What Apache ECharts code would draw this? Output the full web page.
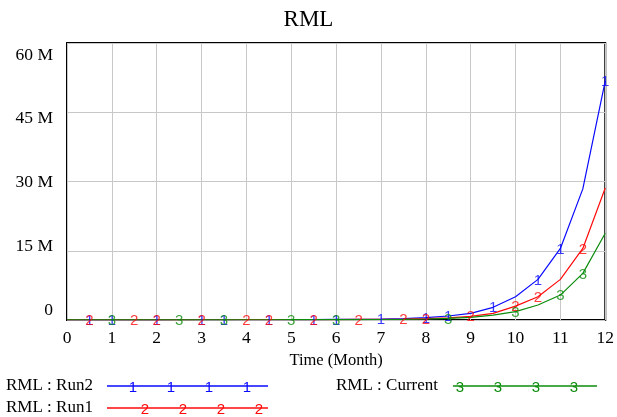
<!DOCTYPE html>
<html>
<head>
<meta charset="utf-8">
<script src="https://cdn.jsdelivr.net/npm/echarts@6/dist/echarts.min.js"></script>
<style>
  html, body { margin: 0; padding: 0; background: #fff; }
  #chart { width: 617px; height: 417px; }
</style>
</head>
<body>
<div id="chart"></div>
<script>
// time in months, 0..12 every half month
const times = [0, 0.5, 1, 1.5, 2, 2.5, 3, 3.5, 4, 4.5, 5, 5.5, 6, 6.5, 7, 7.5, 8, 8.5, 9, 9.5, 10, 10.5, 11, 11.5, 12];
// RML values in millions
const run2 = [0.02, 0.03, 0.03, 0.04, 0.04, 0.05, 0.05, 0.06, 0.07, 0.08, 0.09, 0.1, 0.12, 0.15, 0.2, 0.3, 0.5, 0.87, 1.45, 2.75, 5.05, 8.8, 15.5, 28.4, 51.8];
const run1 = [0.02, 0.02, 0.03, 0.03, 0.04, 0.04, 0.05, 0.05, 0.06, 0.07, 0.08, 0.09, 0.1, 0.12, 0.15, 0.2, 0.3, 0.45, 0.8, 1.45, 3.0, 5.05, 8.8, 15.5, 28.6];
const current = [0.02, 0.02, 0.02, 0.03, 0.03, 0.03, 0.04, 0.04, 0.05, 0.05, 0.06, 0.07, 0.08, 0.09, 0.11, 0.15, 0.22, 0.35, 0.58, 1.05, 1.8, 3.25, 5.4, 10.1, 18.8];
// times where the run number is printed on the line
const run2Marks = [0.5, 1, 2, 3, 3.5, 4.5, 5.5, 6, 7, 8, 8.5, 9.5, 10.5, 11, 12];
const run1Marks = [0.5, 1.5, 2, 3, 4, 4.5, 5.5, 6.5, 7.5, 8, 9, 10, 10.5, 11.5];
const currentMarks = [1, 2.5, 3.5, 5, 6, 8.5, 10, 11, 11.5];

const yTicks = [0, 15, 30, 45, 60];
const yLabels = ['0', '15 M', '30 M', '45 M', '60 M'];
const yShift = [-9.5, -4.5, 1, 6, 12];

const serif = '"Liberation Serif", "Times New Roman", serif';
const sans = '"Liberation Sans", Arial, sans-serif';

const runs = [
  { name: 'RML : Run2', data: run2, marks: run2Marks, color: '#0a0aff', tag: '1' },
  { name: 'RML : Run1', data: run1, marks: run1Marks, color: '#ff0a0a', tag: '2' },
  { name: 'RML : Current', data: current, marks: currentMarks, color: '#0c8c0c', tag: '3' }
];

const rich = {};
yShift.forEach((d, i) => {
  rich['l' + i] = {
    fontFamily: serif, fontSize: 17.5, color: '#000',
    padding: d > 0 ? [2 * d, 0, 0, 0] : [0, 0, -2 * d, 0]
  };
});

const series = [];
runs.forEach(r => {
  series.push({
    name: r.name,
    type: 'line',
    data: times.map((t, i) => [t, r.data[i]]),
    symbol: 'none',
    lineStyle: { color: r.color, width: 1.2 },
    z: 3
  });
});
runs.forEach(r => {
  series.push({
    type: 'scatter',
    data: r.marks.map(t => [t, r.data[times.indexOf(t)]]),
    symbolSize: 1,
    itemStyle: { color: 'transparent' },
    label: {
      show: true, position: 'inside', formatter: r.tag, offset: [0, 1],
      color: r.color, fontFamily: sans, fontSize: 15
    },
    z: 4
  });
});

// legend drawn by hand, Vensim style
const legendItems = [
  { x: 6, y: 387, x1: 107, x2: 268, marks: [133, 171, 209, 247], run: runs[0] },
  { x: 6, y: 409, x1: 107, x2: 268, marks: [145, 183, 221, 259], run: runs[1] },
  { x: 336, y: 387, x1: 453, x2: 597, marks: [460, 498, 536, 574], run: runs[2] }
];
const graphic = [];
legendItems.forEach(it => {
  graphic.push({
    type: 'text', left: it.x, top: it.y - 10,
    style: { text: it.run.name, font: '17px ' + serif, fill: '#000' }
  });
  graphic.push({
    type: 'line',
    shape: { x1: it.x1, y1: it.y - 1, x2: it.x2, y2: it.y - 1 },
    style: { stroke: it.run.color, lineWidth: 1.5 }
  });
  it.marks.forEach(mx => {
    graphic.push({
      type: 'text', x: mx, y: it.y + 1,
      style: {
        text: it.run.tag, font: '15px ' + sans, fill: it.run.color,
        align: 'center', verticalAlign: 'middle'
      }
    });
  });
});

const chart = echarts.init(document.getElementById('chart'));
chart.setOption({
  animation: false,
  backgroundColor: '#fff',
  title: {
    text: 'RML', left: 'center', top: 3,
    textStyle: { fontFamily: serif, fontSize: 23, fontWeight: 'normal', color: '#000' }
  },
  grid: {
    left: 67, right: 9, top: 43, bottom: 97,
    show: true, borderColor: '#000', borderWidth: 2, backgroundColor: 'transparent'
  },
  xAxis: {
    type: 'value', min: 0, max: 12, interval: 1,
    name: 'Time (Month)', nameLocation: 'middle', nameGap: 30,
    nameTextStyle: { fontFamily: serif, fontSize: 16.5, color: '#000' },
    axisLine: { show: false }, axisTick: { show: false },
    axisLabel: { fontFamily: serif, fontSize: 17.5, color: '#000', margin: 9 },
    splitLine: { lineStyle: { color: '#c8c8c8', width: 1 } }
  },
  yAxis: {
    type: 'value', min: 0, max: 60, interval: 15,
    axisLine: { show: false }, axisTick: { show: false },
    axisLabel: {
      margin: 14,
      formatter: v => '{l' + yTicks.indexOf(v) + '|' + yLabels[yTicks.indexOf(v)] + '}',
      rich: rich
    },
    splitLine: { lineStyle: { color: '#c8c8c8', width: 1 } }
  },
  series: series,
  graphic: graphic
});
</script>
</body>
</html>
